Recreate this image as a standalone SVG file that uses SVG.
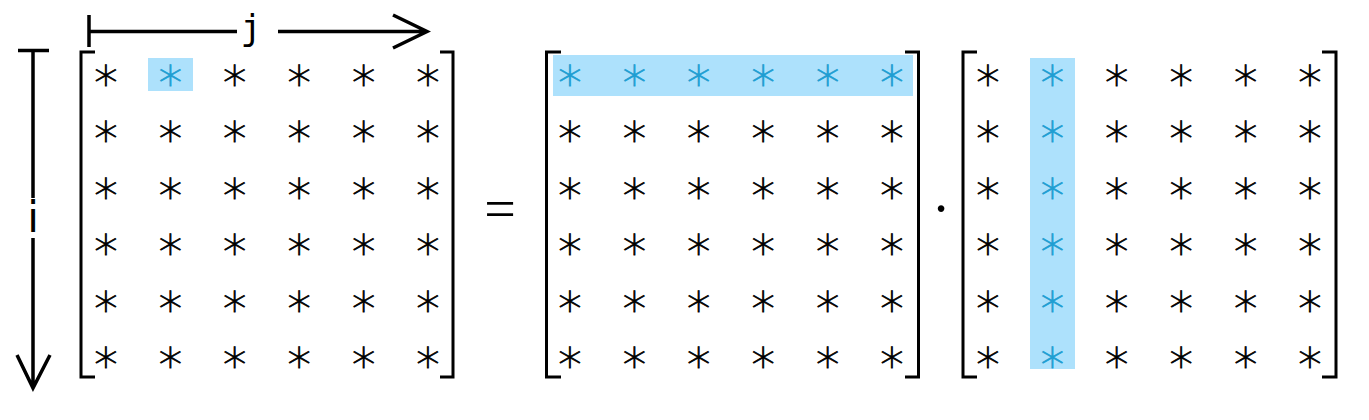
<svg xmlns="http://www.w3.org/2000/svg" width="1369" height="420" viewBox="0 0 1369 420">
<style>
.br{fill:none;stroke:#000;stroke-width:3}
.ax{fill:none;stroke:#000;stroke-width:3.5}
.st{font-family:"DejaVu Sans",sans-serif;font-size:47px;font-weight:200;fill:#000;stroke:#000;stroke-width:0.8}
.st .b,.st.b{fill:#1E9ED2;stroke:#1E9ED2}
.hl{fill:#ADE1FC}
</style>
<rect width="1369" height="420" fill="#fff"/>
<g id="axis-j">
<path class="ax" d="M89,15V47M89,31.5H237M278,31.5H427M393,15L427,31.5L393,48"/>
<text x="251" y="40" font-family="DejaVu Sans Mono,monospace" font-size="35" text-anchor="middle">j</text>
</g>
<g id="axis-i">
<path class="ax" d="M18,50.5H49M33,50.5V198M33,238V388M17,355L33,388L50,355"/>
<text x="33" y="232" font-family="DejaVu Sans,sans-serif" font-size="42" text-anchor="middle">i</text>
</g>
<g id="matrix-A">
<rect class="hl" x="148" y="58" width="45" height="33"/>
<path class="br" d="M95,52H81V377H95M440,52H453V377H440"/>
<g class="st" text-anchor="middle">
<text x="106 170.4 234.8 299.2 363.6 428" y="89.5">∗<tspan class="b">∗</tspan>∗∗∗∗</text>
<text x="106 170.4 234.8 299.2 363.6 428" y="146">∗∗∗∗∗∗</text>
<text x="106 170.4 234.8 299.2 363.6 428" y="202.5">∗∗∗∗∗∗</text>
<text x="106 170.4 234.8 299.2 363.6 428" y="259">∗∗∗∗∗∗</text>
<text x="106 170.4 234.8 299.2 363.6 428" y="315.5">∗∗∗∗∗∗</text>
<text x="106 170.4 234.8 299.2 363.6 428" y="372">∗∗∗∗∗∗</text>
</g>
</g>
<g id="equals">
<text x="500" y="228" font-family="Liberation Serif,serif" font-size="56" text-anchor="middle">=</text>
</g>
<g id="matrix-B">
<rect class="hl" x="553" y="55" width="360" height="41"/>
<path class="br" d="M561,52H546.5V377H561M905,52H918.5V377H905"/>
<g class="st" text-anchor="middle">
<text class="b" x="570 634.4 698.8 763.2 827.6 892" y="89.5">∗∗∗∗∗∗</text>
<text x="570 634.4 698.8 763.2 827.6 892" y="146">∗∗∗∗∗∗</text>
<text x="570 634.4 698.8 763.2 827.6 892" y="202.5">∗∗∗∗∗∗</text>
<text x="570 634.4 698.8 763.2 827.6 892" y="259">∗∗∗∗∗∗</text>
<text x="570 634.4 698.8 763.2 827.6 892" y="315.5">∗∗∗∗∗∗</text>
<text x="570 634.4 698.8 763.2 827.6 892" y="372">∗∗∗∗∗∗</text>
</g>
</g>
<g id="dot">
<text x="941" y="228" font-family="Liberation Serif,serif" font-size="56" text-anchor="middle">·</text>
</g>
<g id="matrix-C">
<rect class="hl" x="1030" y="58" width="45" height="311"/>
<path class="br" d="M977,52H963V377H977M1322,52H1336V377H1322"/>
<g class="st" text-anchor="middle">
<text x="988 1052.4 1116.8 1181.2 1245.6 1310" y="89.5">∗<tspan class="b">∗</tspan>∗∗∗∗</text>
<text x="988 1052.4 1116.8 1181.2 1245.6 1310" y="146">∗<tspan class="b">∗</tspan>∗∗∗∗</text>
<text x="988 1052.4 1116.8 1181.2 1245.6 1310" y="202.5">∗<tspan class="b">∗</tspan>∗∗∗∗</text>
<text x="988 1052.4 1116.8 1181.2 1245.6 1310" y="259">∗<tspan class="b">∗</tspan>∗∗∗∗</text>
<text x="988 1052.4 1116.8 1181.2 1245.6 1310" y="315.5">∗<tspan class="b">∗</tspan>∗∗∗∗</text>
<text x="988 1052.4 1116.8 1181.2 1245.6 1310" y="372">∗<tspan class="b">∗</tspan>∗∗∗∗</text>
</g>
</g>
</svg>
